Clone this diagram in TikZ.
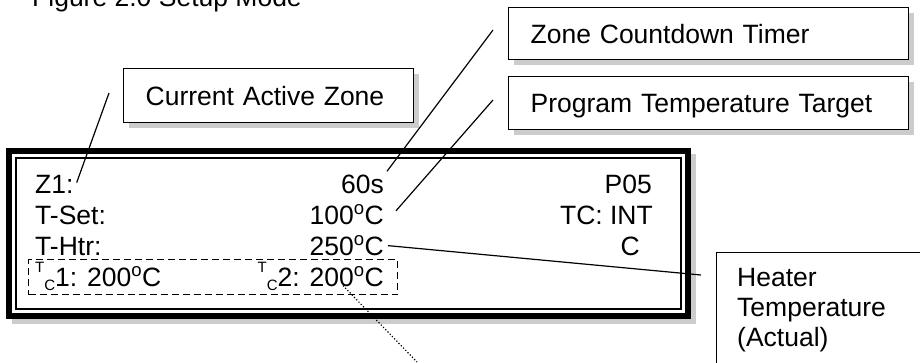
\documentclass[tikz,border=0pt]{standalone}
\usepackage{fontspec}
\setmainfont{Liberation Sans}
\usetikzlibrary{positioning,calc,shadows}

\newcommand{\degsym}{\textsuperscript{o}}
\newcommand{\tcsym}{\raisebox{0.5em}{\fontsize{15}{15}\selectfont T}\raisebox{-0.16em}{\fontsize{15}{15}\selectfont C}}

\begin{document}
\begin{tikzpicture}[
    x=1pt, y=-1pt,
    callout/.style={draw=black, fill=white, line width=1.3pt, inner xsep=22pt,
      inner ysep=0pt, align=left, text height=19pt, text depth=0pt,
      font=\fontsize{26.5}{30}\selectfont,
      drop shadow={shadow xshift=5pt, shadow yshift=-5pt, fill=gray!40, opacity=1}},
    lcd/.style={font=\fontsize{26.5}{30}\selectfont, inner sep=0pt},
    leader/.style={line width=1.2pt},
    shade/.style={fill=gray!40}
]
\useasboundingbox (0,0) rectangle (920,362);

% ---- title ----
\node[lcd, anchor=base west] (title) at (32,6) {Figure 2.0 Setup Mode};

% ---- callout boxes ----
\node[callout, text width=356pt, minimum height=52pt, anchor=north west]
  (zonebox) at (508,7) {Zone Countdown Timer};
\node[callout, text width=356pt, minimum height=53pt, anchor=north west]
  (progbox) at (508,76) {Program Temperature Target};
\node[callout, text width=246pt, minimum height=54pt, anchor=north west]
  (activebox) at (123,68) {Current Active Zone};
\node[draw=black, fill=white, line width=1.3pt, inner sep=0pt, minimum width=230pt,
  minimum height=140pt, anchor=north west] (heaterbox) at (716,252) {};
\node[lcd, anchor=north west, align=left] (heatertxt) at (737,268)
  {Heater\\Temperature\\(Actual)};

% ---- display frame ----
\fill[shade] (12,154) rectangle (696,324);
\draw[line width=6pt, fill=white] (9,151) rectangle (688,316);
\draw[line width=1.2pt] (16,158) rectangle (681,309);

% ---- display rows ----
\node[lcd, anchor=base west] (z1) at (35,193) {Z1:};
\node[lcd, anchor=base east] (t60) at (384,193) {60s};
\node[lcd, anchor=base east] (p05) at (652,193) {P05};

\node[lcd, anchor=base west] (tset) at (35,224) {T-Set:};
\node[lcd, anchor=base east] (t100) at (384,224) {100\degsym C};
\node[lcd, anchor=base east] (tcint) at (653,224) {TC: INT};

\node[lcd, anchor=base west] (thtr) at (35,255) {T-Htr:};
\node[lcd, anchor=base east] (t250) at (384,255) {250\degsym C};
\node[lcd, anchor=base east] (unit) at (640,255) {C};

\node[lcd, anchor=base west] (tc1) at (35,286) {\tcsym1: 200\degsym C};
\node[lcd, anchor=base east] (tc2) at (384,286) {\tcsym2: 200\degsym C};
\node[draw, dash pattern=on 7pt off 4pt, line width=1.2pt, minimum width=369pt,
  minimum height=35pt, anchor=north west, inner sep=0pt] (tcbox) at (28,259) {};

% ---- leader lines ----
\coordinate (activetip) at (109,93);
\coordinate (zonetip) at (493,30);
\coordinate (progtip) at (493,100);
\coordinate (heatertip) at (701,275);
\coordinate (tcend) at (417,362);
\draw[leader] ([xshift=3pt,yshift=-8pt]z1.north east) -- (activetip);
\draw[leader] ([xshift=3pt,yshift=3pt]t60.north east) -- (zonetip);
\draw[leader] ([xshift=12pt,yshift=-6pt]t100.north east) -- (progtip);
\draw[leader] ([xshift=4pt]t250.east) -- (heatertip);
\draw[leader, dotted] ([xshift=-41pt,yshift=5pt]tc2.south east) -- (tcend);

\end{tikzpicture}
\end{document}
